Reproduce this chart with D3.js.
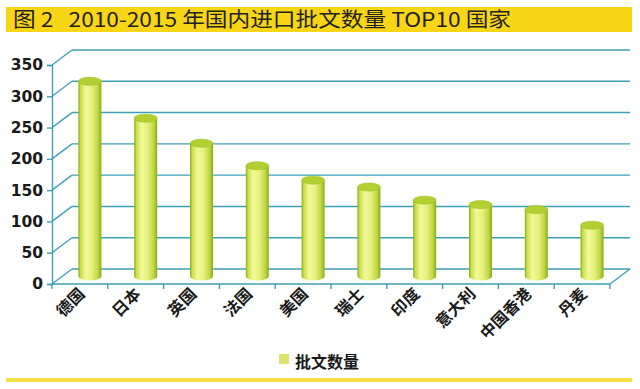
<!DOCTYPE html>
<html>
<head>
<meta charset="utf-8">
<script src="https://cdn.jsdelivr.net/npm/d3@7"></script>
<style>
  body { margin: 0; background: #fff; }
  svg { display: block; }
</style>
</head>
<body>
<svg class="chart" width="640" height="389"></svg>
<script>
// data
var countries = ["德国", "日本", "英国", "法国", "美国", "瑞士", "印度", "意大利", "中国香港", "丹麦"];
var approvals = [312, 253, 213, 177, 154, 143, 122, 115, 107, 82];
var yTicks = [0, 50, 100, 150, 200, 250, 300, 350];
var titleText = "图 2   2010-2015 年国内进口批文数量 TOP10 国家";
var legendLabel = "批文数量";

var plotLeft = 52, plotRight = 610, plotBottom = 284, plotTop = 65;
var dx = 20, dy = -15;   // depth of the 3d box
var gridColor = "#3f9fb6";

var svg = d3.select(".chart");

// title band
svg.append("rect")
  .attr("x", 6).attr("y", 7)
  .attr("width", 626).attr("height", 25)
  .style("fill", "#f8d515");
svg.append("text")
  .text(titleText)
  .attr("x", 13).attr("y", 27)
  .attr("textLength", 498)
  .attr("lengthAdjust", "spacingAndGlyphs")
  .style("white-space", "pre")
  .style("font-family", "'Liberation Sans Narrow', 'Noto Sans CJK SC', sans-serif")
  .style("font-size", 20)
  .style("fill", "#222");

var xScale = d3.scaleBand().domain(countries).range([plotLeft, plotRight]).padding(0);
var yScale = d3.scaleLinear().domain([0, 350]).range([plotBottom, plotTop]);

// gradient for the cylinders
var defs = svg.append("defs");
var grad = defs.append("linearGradient").attr("id", "cyl")
  .attr("x1", "0%").attr("x2", "100%").attr("y1", "0%").attr("y2", "0%");
[[0, "#86ad16"], [0.1, "#c9df4a"], [0.32, "#f3f89b"], [0.6, "#e6f07c"], [0.85, "#bfd640"], [1, "#86ad16"]]
  .forEach(function(s) {
    grad.append("stop").attr("offset", s[0]).attr("stop-color", s[1]);
  });

var g = svg.append("g");

// side wall + back wall grid lines
g.selectAll(".grid-side").data(yTicks).enter()
  .append("line")
  .attr("x1", plotLeft).attr("y1", d => yScale(d))
  .attr("x2", plotLeft + dx).attr("y2", d => yScale(d) + dy)
  .style("stroke", gridColor).style("stroke-width", 1.4);

g.selectAll(".grid-back").data(yTicks).enter()
  .append("line")
  .attr("x1", plotLeft + dx).attr("y1", d => yScale(d) + dy)
  .attr("x2", plotRight + dx).attr("y2", d => yScale(d) + dy)
  .style("stroke", gridColor).style("stroke-width", 1.4);

// floor front edge and right edge
g.append("line")
  .attr("x1", plotLeft).attr("y1", yScale(0))
  .attr("x2", plotRight).attr("y2", yScale(0))
  .style("stroke", gridColor).style("stroke-width", 1.4);
g.append("line")
  .attr("x1", plotRight).attr("y1", yScale(0))
  .attr("x2", plotRight + dx).attr("y2", yScale(0) + dy)
  .style("stroke", gridColor).style("stroke-width", 1.4);

// y axis
var yAxis = d3.axisLeft(yScale).tickValues(yTicks).tickSize(5).tickPadding(4);
g.append("g")
  .attr("transform", "translate(" + plotLeft + ",0)")
  .call(yAxis)
  .call(a => a.select(".domain").style("stroke", gridColor).style("stroke-width", 1.4))
  .call(a => a.selectAll(".tick line").style("stroke", gridColor).style("stroke-width", 1.4))
  .call(a => a.selectAll(".tick text")
    .style("font-family", "'DejaVu Sans', sans-serif")
    .style("font-weight", "bold")
    .style("font-size", 15.5)
    .style("fill", "#1a1a1a"));

// x ticks at band edges
var edges = countries.map(c => xScale(c)).concat([plotRight]);
g.selectAll(".x-tick").data(edges).enter()
  .append("line")
  .attr("x1", d => d).attr("x2", d => d)
  .attr("y1", yScale(0)).attr("y2", yScale(0) + 5)
  .style("stroke", gridColor).style("stroke-width", 1.4);

// cylinders
var bw = xScale.bandwidth();
var r = 11.5, ry = 4;
var cx = d => xScale(d) + bw / 2 + dx / 2;
var baseY = yScale(0) + dy / 2;

var bars = g.selectAll(".cyl").data(countries).enter().append("g");
bars.append("ellipse")
  .attr("cx", cx).attr("cy", baseY)
  .attr("rx", r).attr("ry", ry)
  .style("fill", "url(#cyl)");
bars.append("rect")
  .attr("x", d => cx(d) - r)
  .attr("y", (d, i) => yScale(approvals[i]) + dy / 2)
  .attr("width", 2 * r)
  .attr("height", (d, i) => baseY - (yScale(approvals[i]) + dy / 2))
  .style("fill", "url(#cyl)");
bars.append("ellipse")
  .attr("cx", cx)
  .attr("cy", (d, i) => yScale(approvals[i]) + dy / 2)
  .attr("rx", r).attr("ry", ry)
  .style("fill", "#b3d032")
  .style("stroke", "#9dbf22").style("stroke-width", 0.6);

// category labels
g.selectAll(".x-label").data(countries).enter()
  .append("text")
  .text(d => d)
  .attr("transform", d => "translate(" + (xScale(d) + bw / 2 + 6) + "," + (yScale(0) + 11) + ") rotate(-45)")
  .style("text-anchor", "end")
  .style("font-family", "'Noto Sans CJK SC', sans-serif")
  .style("font-weight", "bold")
  .style("font-size", 16)
  .style("fill", "#1a1a1a");

// legend
svg.append("rect")
  .attr("x", 279).attr("y", 354)
  .attr("width", 10).attr("height", 10)
  .style("fill", "#dbe36c");
svg.append("text")
  .text(legendLabel)
  .attr("x", 295).attr("y", 368)
  .style("font-family", "'Noto Sans CJK SC', sans-serif")
  .style("font-weight", "bold")
  .style("font-size", 16)
  .style("fill", "#1a1a1a");

// bottom rule
svg.append("rect")
  .attr("x", 6).attr("y", 378)
  .attr("width", 626).attr("height", 4)
  .style("fill", "#f1df45");
</script>
</body>
</html>
